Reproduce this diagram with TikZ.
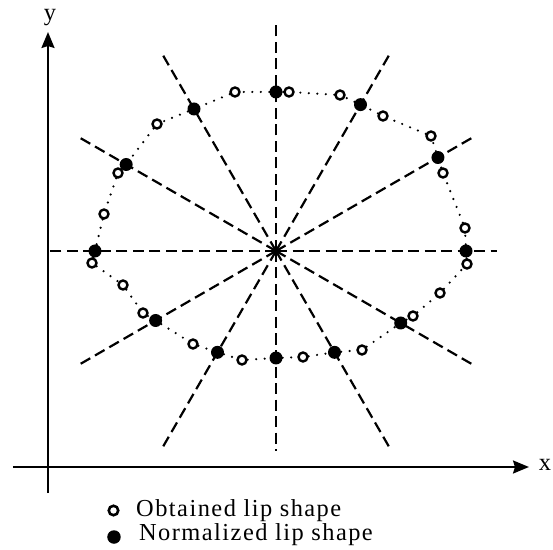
\documentclass[tikz,border=0pt]{standalone}
\usepackage{fontspec}
\setmainfont{Liberation Serif}
\newfontfamily\keyfont[LetterSpace=6]{Liberation Serif}
\usetikzlibrary{
  arrows.meta,
  positioning
}

\begin{document}
\begin{tikzpicture}[
      x=1bp, y=1bp,
      axis/.style={line width=2.3bp, -{Stealth[length=16bp, width=13bp, inset=2bp]}},
      ray/.style={line width=2.2bp, dash pattern=on 11bp off 5.5bp},
      trace/.style={line width=2.4bp, line cap=round, dash pattern=on 0bp off 8.5bp},
      obtained/.style={circle, draw, line width=2.4bp, inner sep=0pt, minimum size=9bp},
      normalized/.style={circle, fill, inner sep=0pt, minimum size=13bp},
      axislabel/.style={font=\fontsize{24.5}{28}\selectfont, inner sep=0pt},
      keytext/.style={font=\fontsize{24.5}{28}\selectfont\keyfont, inner sep=0pt}
    ]
      \useasboundingbox (-276,251) rectangle (277,-299);
      \coordinate (O) at (0,0);

      % axes
      \draw[axis] (-228,-242) -- (-228,219);
      \draw[axis] (-263,-216) -- (253,-216);
      \node[axislabel, anchor=base] (ylab) at (-226,230) {y};
      \node[axislabel, anchor=base] (xlab) at (269,-219) {x};

      % radial lines
      \draw[ray] (O) -- (0:221);
      \draw[ray] (O) -- (30:231);
      \draw[ray] (O) -- (60:231);
      \draw[ray] (O) -- (90:231);
      \draw[ray] (O) -- (120:231);
      \draw[ray] (O) -- (150:231);
      \draw[ray] (O) -- (180:231);
      \draw[ray] (O) -- (210:231);
      \draw[ray] (O) -- (240:231);
      \draw[ray] (O) -- (270:200);
      \draw[ray] (O) -- (300:231);
      \draw[ray] (O) -- (330:231);

      % normalized lip shape
      \node[normalized] (n0) at (0:190) {};
      \node[normalized] (n30) at (30:187) {};
      \node[normalized] (n60) at (60:169) {};
      \node[normalized] (n90) at (90:159) {};
      \node[normalized] (n120) at (120:164) {};
      \node[normalized] (n150) at (150:173) {};
      \node[normalized] (n180) at (180:181) {};
      \node[normalized] (n210) at (210:139) {};
      \node[normalized] (n240) at (240:117) {};
      \node[normalized] (n270) at (270:107) {};
      \node[normalized] (n300) at (300:117) {};
      \node[normalized] (n330) at (330:144) {};

      % obtained lip shape
      \node[obtained] (o1) at (189,23) {};
      \node[obtained] (o2) at (167,78) {};
      \node[obtained] (o3) at (155,115) {};
      \node[obtained] (o4) at (107,135) {};
      \node[obtained] (o5) at (64,156) {};
      \node[obtained] (o6) at (13,159) {};
      \node[obtained] (o7) at (-41,159) {};
      \node[obtained] (o8) at (-119,127) {};
      \node[obtained] (o9) at (-158,78) {};
      \node[obtained] (o10) at (-172,37) {};
      \node[obtained] (o11) at (-184,-12) {};
      \node[obtained] (o12) at (-153,-34) {};
      \node[obtained] (o13) at (-133,-62) {};
      \node[obtained] (o14) at (-83,-93) {};
      \node[obtained] (o15) at (-34,-109) {};
      \node[obtained] (o16) at (27,-106) {};
      \node[obtained] (o17) at (86,-99) {};
      \node[obtained] (o18) at (137,-65) {};
      \node[obtained] (o19) at (164,-42) {};
      \node[obtained] (o20) at (191,-13) {};

      % contour
      \draw[trace] (n0) -- (o1) -- (o2) -- (n30) -- (o3) -- (o4) -- (n60)
        -- (o5) -- (o6) -- (n90) -- (o7) -- (n120) -- (o8) -- (n150)
        -- (o9) -- (o10) -- (n180) -- (o11) -- (o12) -- (o13) -- (n210)
        -- (o14) -- (n240) -- (o15) -- (n270) -- (o16) -- (n300)
        -- (o17) -- (n330) -- (o18) -- (o19) -- (o20) -- (n0);

      % key
      \node[obtained, minimum size=9.5bp, line width=2.6bp] (keyobt) at (-162.5,-259.5) {};
      \node[normalized, minimum size=13.5bp] (keynrm) at (-162,-286) {};
      \node[keytext, right=16.5bp of keyobt] (keyobttext) {Obtained lip shape};
      \node[keytext, right=18bp of keynrm, yshift=2bp] (keynrmtext) {Normalized lip shape};
    \end{tikzpicture}
\end{document}
